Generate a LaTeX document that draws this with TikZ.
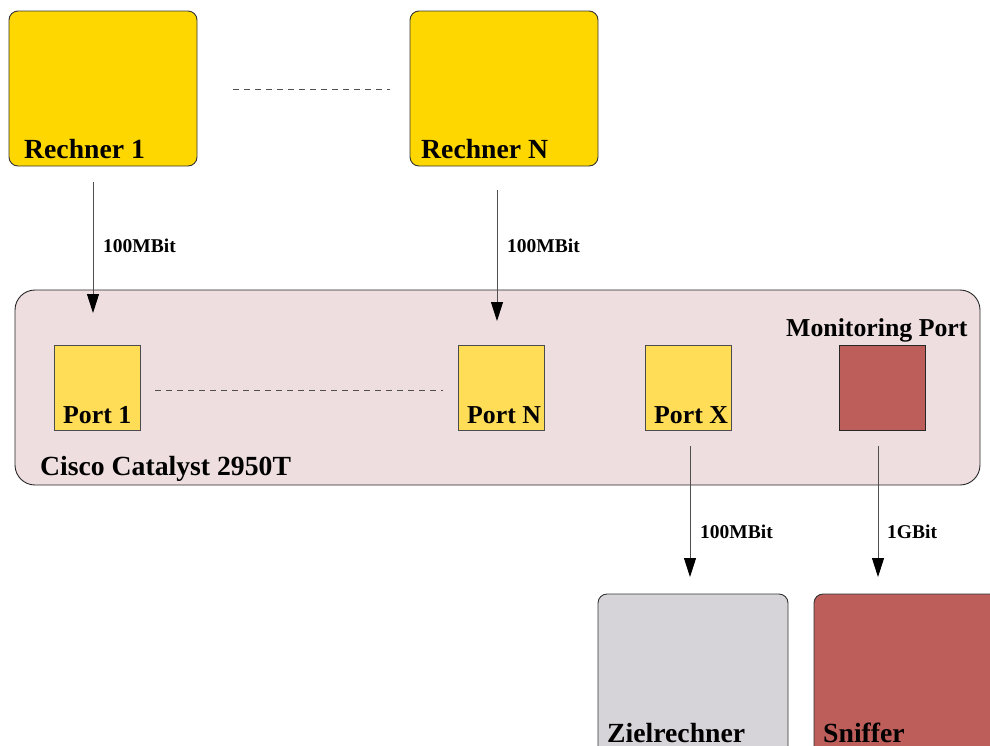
\documentclass[tikz,border=0pt]{standalone}
\usepackage{fontspec}
\setmainfont{Liberation Serif}
\usetikzlibrary{arrows.meta}
\definecolor{pcgold}{HTML}{FFD700}
\definecolor{portgold}{HTML}{FFDD57}
\definecolor{swpink}{HTML}{EEDEDF}
\definecolor{redbrown}{HTML}{BD5E5A}
\definecolor{lightgrey}{HTML}{D6D4D8}
\definecolor{linegrey}{HTML}{505050}
\tikzset{
  pcbox/.style={draw=black!80, line width=0.9pt, rounded corners=9pt, minimum width=188pt, minimum height=155pt, inner sep=0pt},
  portbox/.style={draw=black!70, line width=0.9pt, minimum width=86pt, minimum height=85pt, inner sep=0pt},
  bigtxt/.style={font=\fontsize{27.7}{31}\selectfont\bfseries, inner sep=0pt, anchor=base west},
  porttxt/.style={font=\fontsize{25.8}{29}\selectfont\bfseries, inner sep=0pt, anchor=base west},
  smalltxt/.style={font=\fontsize{19.5}{22}\selectfont\bfseries, inner sep=0pt, anchor=base west},
  link/.style={draw=linegrey, line width=0.9pt, -{Triangle[length=19pt,width=12pt,fill=black,color=black]}},
  dotline/.style={draw=linegrey, line width=0.9pt, dash pattern=on 6pt off 5pt}
}
\begin{document}
\begin{tikzpicture}[x=1pt,y=-1pt]
\useasboundingbox (0,0) rectangle (990,745);
\clip (0,0) rectangle (990,745);
% computers
\node[pcbox, fill=pcgold] (r1) at (103,88.5) {};
\node[pcbox, fill=pcgold] (rN) at (504,88.5) {};
\node[bigtxt] (r1t) at (24,158) {Rechner 1};
\node[bigtxt] (rNt) at (421,158) {Rechner N};
\draw[dotline, shorten <=36pt, shorten >=20pt] ([yshift=-0.5pt]r1.east) -- ([yshift=-0.5pt]rN.west);
% switch
\node[draw=black!85, line width=0.9pt, fill=swpink, rounded corners=20pt, minimum width=965pt, minimum height=195pt, inner sep=0pt] (sw) at (497.5,387.5) {};
\node[bigtxt] (swt) at (40,475) {Cisco Catalyst 2950T};
\node[porttxt] (mont) at (786,336) {Monitoring Port};
% ports
\node[portbox, fill=portgold] (p1) at (97,387.5) {};
\node[portbox, fill=portgold] (pN) at (501,387.5) {};
\node[portbox, fill=portgold] (pX) at (688,387.5) {};
\node[portbox, fill=redbrown, draw=black!85] (pM) at (882,387.5) {};
\node[porttxt] (p1t) at (63,423) {Port 1};
\node[porttxt] (pNt) at (467,423) {Port N};
\node[porttxt] (pXt) at (654,423) {Port X};
\draw[dotline, shorten <=15pt, shorten >=15pt] ([yshift=-2.5pt]p1.east) -- ([yshift=-2.5pt]pN.west);
% target machines
\node[pcbox, fill=lightgrey, minimum width=190pt, minimum height=200pt] (z) at (693,694) {};
\node[pcbox, fill=redbrown, minimum width=200pt, minimum height=200pt] (s) at (914,694) {};
\node[bigtxt] (zt) at (607,742) {Zielrechner};
\node[bigtxt] (st) at (823,742) {Sniffer};
% links
\coordinate (a1s) at (93,182);
\coordinate (a1e) at (93,313);
\coordinate (aNs) at (497,190);
\coordinate (aNe) at (497,321);
\coordinate (aXs) at (690,446);
\coordinate (aXe) at (690,577);
\coordinate (aMs) at (878,446);
\coordinate (aMe) at (878,577);
\draw[link] (a1s) -- (a1e);
\draw[link] (aNs) -- (aNe);
\draw[link] (aXs) -- (aXe);
\draw[link] (aMs) -- (aMe);
\node[smalltxt] (l1) at (103,252) {100MBit};
\node[smalltxt] (lN) at (507,252) {100MBit};
\node[smalltxt] (lX) at (700,538) {100MBit};
\node[smalltxt] (lM) at (887,538) {1GBit};
\end{tikzpicture}
\end{document}
